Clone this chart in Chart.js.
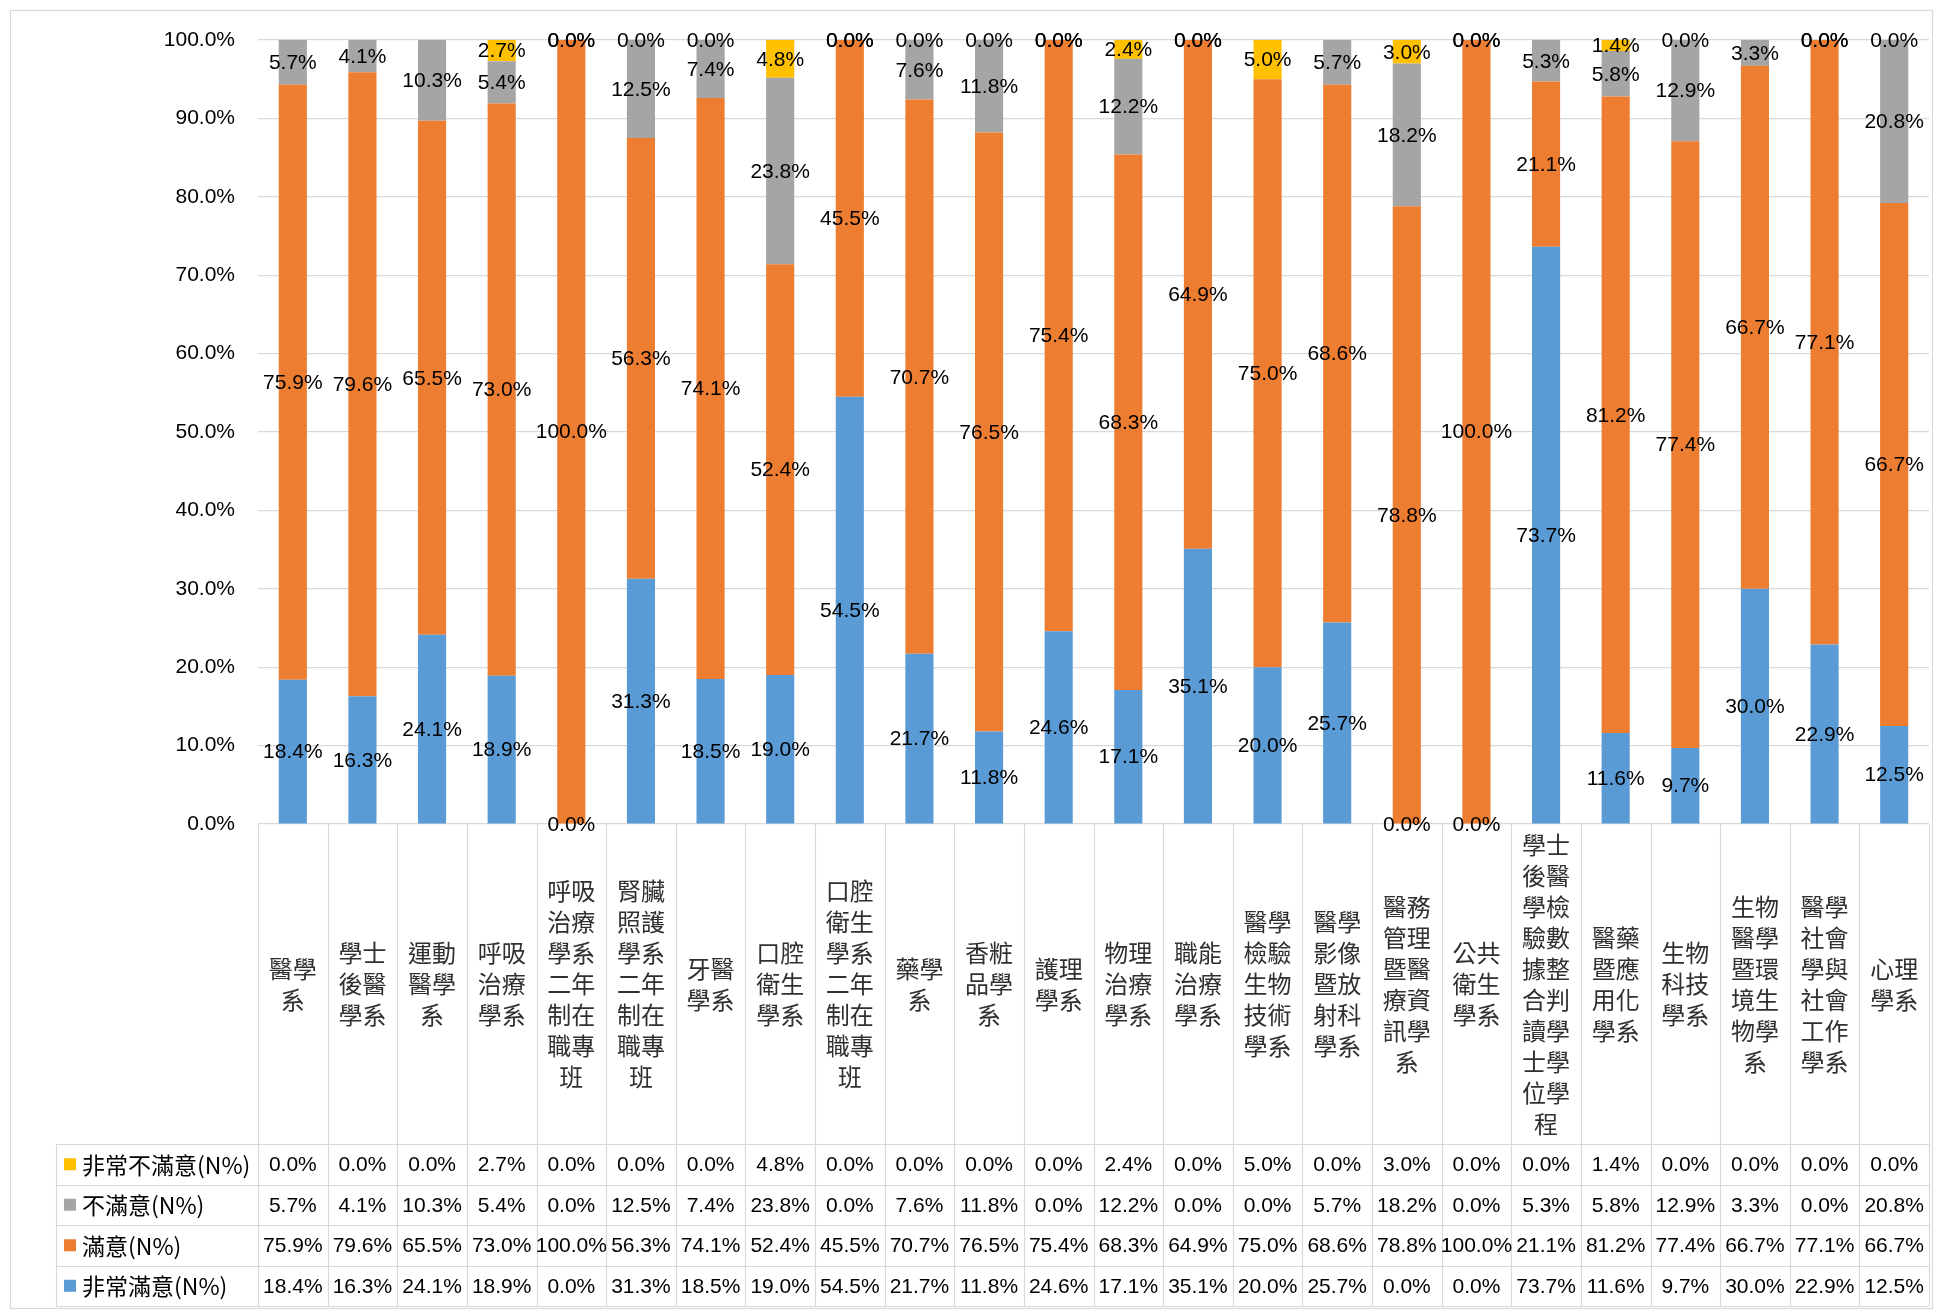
<!DOCTYPE html>
<html><head><meta charset="utf-8">
<script src="https://cdn.jsdelivr.net/npm/chart.js@4.4.1/dist/chart.umd.min.js"></script>
<style>
html,body{margin:0;padding:0;background:#fff;}
#wrap{position:relative;width:1937px;height:1313px;}
canvas{display:block;}
</style></head><body>
<div id="wrap"><canvas id="c" width="1937" height="1313" style="width:1937px;height:1313px"></canvas></div>
<script>
const categories = ['醫學系','學士後醫學系','運動醫學系','呼吸治療學系','呼吸治療學系二年制在職專班','腎臟照護學系二年制在職專班','牙醫學系','口腔衛生學系','口腔衛生學系二年制在職專班','藥學系','香粧品學系','護理學系','物理治療學系','職能治療學系','醫學檢驗生物技術學系','醫學影像暨放射科學系','醫務管理暨醫療資訊學系','公共衛生學系','學士後醫學檢驗數據整合判讀學士學位學程','醫藥暨應用化學系','生物科技學系','生物醫學暨環境生物學系','醫學社會學與社會工作學系','心理學系'];
const seriesNames = ['非常不滿意(N%)','不滿意(N%)','滿意(N%)','非常滿意(N%)'];
const veryDissatisfied = [0,0,0,2.7,0,0,0,4.8,0,0,0,0,2.4,0,5.0,0,3.0,0,0,1.4,0,0,0,0];
const dissatisfied = [5.7,4.1,10.3,5.4,0,12.5,7.4,23.8,0,7.6,11.8,0,12.2,0,0,5.7,18.2,0,5.3,5.8,12.9,3.3,0,20.8];
const satisfied = [75.9,79.6,65.5,73.0,100,56.3,74.1,52.4,45.5,70.7,76.5,75.4,68.3,64.9,75.0,68.6,78.8,100,21.1,81.2,77.4,66.7,77.1,66.7];
const verySatisfied = [18.4,16.3,24.1,18.9,0,31.3,18.5,19.0,54.5,21.7,11.8,24.6,17.1,35.1,20.0,25.7,0,0,73.7,11.6,9.7,30.0,22.9,12.5];
const yTickValues = [0,10,20,30,40,50,60,70,80,90,100];
// zero-value labels that are not shown on the bars
const hiddenZeroYellow = [0,1,2,15,18,21];
const hiddenZeroGray = [14];

const COLORS = {vd:'#FFC000', d:'#A5A5A5', s:'#ED7D31', vs:'#5B9BD5'};
const NUM_FAMILY = '"Liberation Sans", Arial, sans-serif';
const NUM_SIZE = 21;
const NUM_FONT = NUM_SIZE + 'px ' + NUM_FAMILY;
const CJK_FONT = '24px "Noto Sans CJK TC", sans-serif';
const LEG_FONT = '23px "Noto Sans CJK TC", sans-serif';

const totals = categories.map((_,i)=>veryDissatisfied[i]+dissatisfied[i]+satisfied[i]+verySatisfied[i]);
const norm = arr => arr.map((v,i)=> totals[i] ? v/totals[i]*100 : 0);

const datasets = [
  {label:seriesNames[3], raw:verySatisfied, hide:[], data:norm(verySatisfied), backgroundColor:COLORS.vs},
  {label:seriesNames[2], raw:satisfied, hide:[], data:norm(satisfied), backgroundColor:COLORS.s},
  {label:seriesNames[1], raw:dissatisfied, hide:hiddenZeroGray, data:norm(dissatisfied), backgroundColor:COLORS.d},
  {label:seriesNames[0], raw:veryDissatisfied, hide:hiddenZeroYellow, data:norm(veryDissatisfied), backgroundColor:COLORS.vd}
].map(d=>Object.assign(d,{borderWidth:0, barPercentage:0.404, categoryPercentage:1.0}));

const TABLE = {headerBottom:1144, rowH:40.5, legendLeft:56};

const framePlugin = {
  id:'frame',
  beforeDraw(chart){
    const ctx = chart.ctx; ctx.save();
    ctx.fillStyle='#fff'; ctx.fillRect(0,0,chart.width,chart.height);
    ctx.strokeStyle='#d9d9d9'; ctx.lineWidth=1.2;
    ctx.strokeRect(10.5,10.5,1922,1298);
    ctx.restore();
  }
};

const labelPlugin = {
  id:'segLabels',
  afterDatasetsDraw(chart){
    const ctx = chart.ctx; ctx.save();
    ctx.font = NUM_FONT; ctx.fillStyle='#000'; ctx.textAlign='center'; ctx.textBaseline='middle';
    chart.data.datasets.forEach((ds,di)=>{
      const meta = chart.getDatasetMeta(di);
      meta.data.forEach((el,i)=>{
        const raw = ds.raw[i];
        if(raw===0 && ds.hide.includes(i)) return;
        const p = el.getProps(['x','y','base'],true);
        ctx.fillText(raw.toFixed(1)+'%', p.x, (p.y+p.base)/2 + 1);
      });
    });
    ctx.restore();
  }
};

const tablePlugin = {
  id:'dataTable',
  afterDraw(chart){
    const ctx = chart.ctx; const xs = chart.scales.x; const area = chart.chartArea;
    const n = categories.length; const colW = (area.right-area.left)/n;
    const rowsTop = TABLE.headerBottom; const rowH = TABLE.rowH;
    const bottom = rowsTop + rowH*4;
    ctx.save();
    ctx.strokeStyle='#d9d9d9'; ctx.lineWidth=1.2;
    ctx.beginPath();
    for(let i=0;i<=n;i++){
      const x = Math.round(area.left + i*colW)+0.5;
      ctx.moveTo(x, area.bottom); ctx.lineTo(x, bottom);
    }
    for(let r=0;r<=4;r++){
      const y = Math.round(rowsTop + r*rowH)+0.5;
      ctx.moveTo(TABLE.legendLeft, y); ctx.lineTo(area.right, y);
    }
    ctx.moveTo(TABLE.legendLeft+0.5, rowsTop); ctx.lineTo(TABLE.legendLeft+0.5, bottom);
    ctx.stroke();
    ctx.font = CJK_FONT; ctx.fillStyle='#303030'; ctx.textAlign='center'; ctx.textBaseline='middle';
    const lh = 31; const hc = (area.bottom + rowsTop)/2;
    categories.forEach((c,i)=>{
      const lines = [];
      for(let k=0;k<c.length;k+=2) lines.push(c.slice(k,k+2));
      const cx = xs.getPixelForValue(i);
      const y0 = hc - (lines.length-1)*lh/2;
      lines.forEach((t,j)=>ctx.fillText(t, cx, y0 + j*lh));
    });
    const rows = [
      {name:seriesNames[0], color:COLORS.vd, vals:veryDissatisfied},
      {name:seriesNames[1], color:COLORS.d, vals:dissatisfied},
      {name:seriesNames[2], color:COLORS.s, vals:satisfied},
      {name:seriesNames[3], color:COLORS.vs, vals:verySatisfied}
    ];
    rows.forEach((r,ri)=>{
      const cy = rowsTop + ri*rowH + rowH/2;
      ctx.fillStyle = r.color; ctx.fillRect(64, cy-6, 12, 12);
      ctx.font = LEG_FONT; ctx.fillStyle='#000'; ctx.textAlign='left';
      ctx.fillText(r.name, 82, cy+1);
      ctx.font = NUM_FONT; ctx.textAlign='center';
      r.vals.forEach((v,i)=> ctx.fillText(v.toFixed(1)+'%', xs.getPixelForValue(i), cy+1));
    });
    ctx.restore();
  }
};

new Chart(document.getElementById('c'), {
  type:'bar',
  data:{labels:categories, datasets},
  options:{
    responsive:false, maintainAspectRatio:false, animation:false, devicePixelRatio:1,
    layout:{padding:{left:0,right:8,top:40,bottom:489}},
    plugins:{legend:{display:false}, tooltip:{enabled:false}},
    scales:{
      x:{stacked:true, display:false, offset:true, grid:{display:false}},
      y:{stacked:true, min:0, max:100,
         afterFit(s){ s.width = 258; },
         afterBuildTicks(s){ s.ticks = yTickValues.map(v=>({value:v})); },
         border:{display:false},
         grid:{color:'#d9d9d9', lineWidth:1.2, drawTicks:false},
         ticks:{padding:23, color:'#000', font:{family:NUM_FAMILY, size:NUM_SIZE},
           callback:v=>Number(v).toFixed(1)+'%'}
      }
    }
  },
  plugins:[framePlugin,labelPlugin,tablePlugin]
});
</script>
</body></html>
